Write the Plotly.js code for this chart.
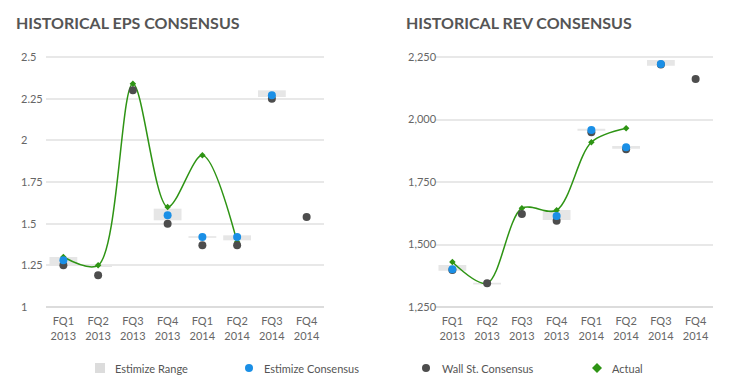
<!DOCTYPE html>
<html><head><meta charset="utf-8">
<script src="https://cdn.plot.ly/plotly-3.0.1.min.js"></script>
<style>html,body{margin:0;padding:0;background:#fff}#chart{width:735px;height:382px}</style>
</head><body><div id="chart"></div>
<script>
const categories = ['FQ1<br>2013','FQ2<br>2013','FQ3<br>2013','FQ4<br>2013','FQ1<br>2014','FQ2<br>2014','FQ3<br>2014','FQ4<br>2014'];

const epsRangeLow  = [1.25, 1.24, null, 1.52, 1.415, 1.40, 2.26, null];
const epsRangeHigh = [1.30, 1.25, null, 1.59, 1.425, 1.43, 2.30, null];
const epsEstimize  = [1.28, null, null, 1.55, 1.42, 1.42, 2.27, null];
const epsWallSt    = [1.25, 1.19, 2.30, 1.50, 1.37, 1.37, 2.25, 1.54];
const epsActual    = [1.30, 1.25, 2.34, 1.60, 1.91, 1.39, null, null];

const revRangeLow  = [1395, 1340, null, 1598, 1955, 1883, 2215, null];
const revRangeHigh = [1418, 1347, null, 1638, 1963, 1894, 2238, null];
const revEstimize  = [1401, null, null, 1614, 1958, 1889, 2222, null];
const revWallSt    = [1398, 1345, 1622, 1595, 1949, 1881, 2220, 2162];
const revActual    = [1430, 1345, 1645, 1637, 1909, 1965, null, null];

const legendLabels = ['Estimize Range','Estimize Consensus','Wall St. Consensus','Actual'];

const C = {range:'#e6e6e6', est:'#1a8fe6', wall:'#4d4d4d', act:'#2e9414', text:'#555555', tick:'#666666', grid:'#e8e8e8'};
const W = 735, H = 382;
const px = x => x / W, py = y => 1 - y / H;

function series(xa, ya, low, high, est, wall, act) {
  return [
    {type:'bar', x:categories, y:high.map((h,i)=> h==null?null: h-low[i]), base:low, width:0.8,
     marker:{color:C.range}, hoverinfo:'skip', xaxis:xa, yaxis:ya, showlegend:false},
    {type:'scatter', mode:'lines+markers', x:categories, y:act, line:{color:C.act, width:1.5, shape:'spline', smoothing:0.9},
     marker:{symbol:'diamond', size:5, color:C.act}, xaxis:xa, yaxis:ya, showlegend:false},
    {type:'scatter', mode:'markers', x:categories, y:wall, marker:{size:8, color:C.wall}, xaxis:xa, yaxis:ya, showlegend:false},
    {type:'scatter', mode:'markers', x:categories, y:est, marker:{size:8, color:C.est}, xaxis:xa, yaxis:ya, showlegend:false}
  ];
}

const data = [
  ...series('x','y', epsRangeLow, epsRangeHigh, epsEstimize, epsWallSt, epsActual),
  ...series('x2','y2', revRangeLow, revRangeHigh, revEstimize, revWallSt, revActual)
];

// plot area padded by 10px above/below the first/last gridline so edge labels stay visible
const yTop = py(47), yBot = py(317);
const font = 'Lato, "Open Sans", sans-serif';
const xCommon = {type:'category', range:[-0.5,7.5], showgrid:false, zeroline:false, showline:true,
  linecolor:'#dcdcdc', linewidth:2, tickfont:{family:font, size:11, color:C.tick}, ticks:'', ticklabelstandoff:4,
  anchor:'free', position:py(307), fixedrange:true};
const yCommon = {showgrid:true, gridcolor:C.grid, gridwidth:2, zeroline:false, showline:false, ticks:'',
  anchor:'free', ticklabelposition:'inside', tickfont:{family:font, size:11, color:C.tick}, domain:[yBot,yTop], fixedrange:true};

const legendSym = [100, 249, 426, 597];
const legX = [113, 262, 440, 610];
const shapes = [
  {type:'rect', xref:'paper', yref:'paper', x0:px(legendSym[0]-5), x1:px(legendSym[0]+5), y0:py(373), y1:py(363), fillcolor:'#dcdcdc', line:{width:0}},
  {type:'circle', xref:'paper', yref:'paper', x0:px(legendSym[1]-4), x1:px(legendSym[1]+4), y0:py(372), y1:py(364), fillcolor:C.est, line:{width:0}},
  {type:'circle', xref:'paper', yref:'paper', x0:px(legendSym[2]-4), x1:px(legendSym[2]+4), y0:py(372), y1:py(364), fillcolor:C.wall, line:{width:0}},
  {type:'path', xref:'paper', yref:'paper', path:`M ${px(legendSym[3])} ${py(363)} L ${px(legendSym[3]+5)} ${py(368)} L ${px(legendSym[3])} ${py(373)} L ${px(legendSym[3]-5)} ${py(368)} Z`, fillcolor:C.act, line:{width:0}}
];
const annotations = [
  {text:'<b>HISTORICAL EPS CONSENSUS</b>', xref:'paper', yref:'paper', x:px(14), y:py(22), xanchor:'left', yanchor:'middle', showarrow:false, font:{family:font, size:16, color:C.text}},
  {text:'<b>HISTORICAL REV CONSENSUS</b>', xref:'paper', yref:'paper', x:px(404), y:py(22), xanchor:'left', yanchor:'middle', showarrow:false, font:{family:font, size:16, color:C.text}},
  ...legendLabels.map((t,i)=>({text:t, xref:'paper', yref:'paper', x:px(legX[i]), y:py(368), xanchor:'left', yanchor:'middle', showarrow:false, font:{family:font, size:11, color:C.text}}))
];

const layout = {
  width:W, height:H, margin:{l:0,r:0,t:0,b:0}, paper_bgcolor:'#fff', plot_bgcolor:'#fff', barmode:'overlay',
  showlegend:false,
  xaxis: {...xCommon, domain:[px(46), px(324)]},
  yaxis: {...yCommon, range:[1-10/166.67, 2.5+10/166.67], tick0:1, dtick:0.25, position:px(17)},
  xaxis2:{...xCommon, domain:[px(435), px(713)]},
  yaxis2:{...yCommon, range:[1250-40, 2250+40], tick0:1250, dtick:250, tickformat:',d', position:px(404)},
  shapes, annotations
};

Plotly.newPlot('chart', data, layout, {displayModeBar:false, staticPlot:true});
</script></body></html>
